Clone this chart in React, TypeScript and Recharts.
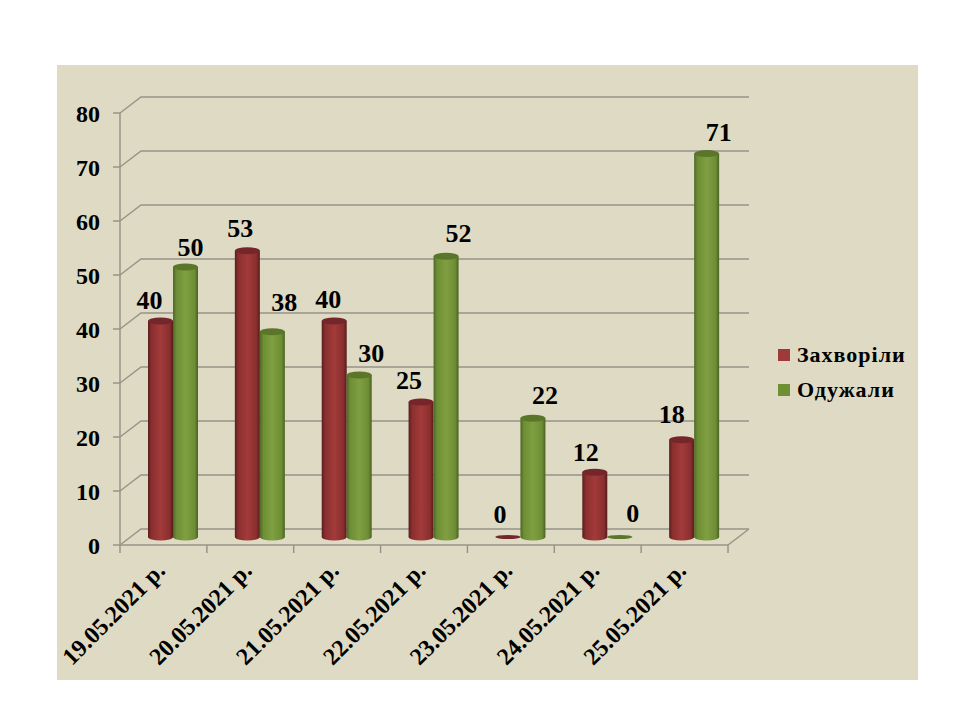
import { BarChart, Bar, XAxis, YAxis, CartesianGrid, Legend, LabelList } from "recharts";

const dates = [
  "19.05.2021 р.",
  "20.05.2021 р.",
  "21.05.2021 р.",
  "22.05.2021 р.",
  "23.05.2021 р.",
  "24.05.2021 р.",
  "25.05.2021 р.",
];
const sick = [40, 53, 40, 25, 0, 12, 18];
const recovered = [50, 38, 30, 52, 22, 0, 71];
const yTicks = [0, 10, 20, 30, 40, 50, 60, 70, 80];

const data = dates.map((date, i) => ({ date, sick: sick[i], recovered: recovered[i] }));

const FONT = '"Liberation Serif", "Times New Roman", serif';
const GRID = "#97948a";
const BAND = 608 / 7;
// fake 3d: how far the back wall and the bars sit from the front axes
const WALL_X = 21;
const WALL_Y = -16;
const BAR_X = 10;
const BAR_Y = -8;

// the labels were dragged by hand in the original
const sickNudge = [[-11, -21], [-7, -22], [-6, -22], [-12, -22], [-8, -23], [-9, -20], [-10, -25]];
const recoveredNudge = [[5, -20], [12, -29], [12, -22], [12.5, -23], [12, -23], [13, -24], [12, -21]];

function GridLine(props: any) {
  const { x1, x2, y1, index } = props;
  const wy = y1 + WALL_Y;
  return (
    <g key={index}>
      <polyline points={`${x1},${y1} ${x1 + WALL_X},${wy} ${x2 + WALL_X},${wy}`} fill="none" stroke={GRID} strokeWidth={1.5} />
      {y1 > 540 && <line x1={x2} y1={y1} x2={x2 + WALL_X} y2={wy} stroke={GRID} strokeWidth={1.5} />}
    </g>
  );
}

function Cylinder(props: any) {
  const { x, y, width, height, grad, top } = props;
  const left = x + BAR_X;
  const ty = y + BAR_Y;
  const rx = width / 2;
  const cx = left + rx;
  if (height < 1) {
    return <ellipse cx={cx} cy={ty} rx={rx} ry={2} fill={top} />;
  }
  const by = ty + height;
  return (
    <g>
      <path
        d={`M${left},${ty} L${left},${by} A${rx},3.5 0 0 0 ${left + width},${by} L${left + width},${ty} Z`}
        fill={`url(#${grad})`}
      />
      <ellipse cx={cx} cy={ty} rx={rx} ry={3.5} fill={top} />
    </g>
  );
}

function XTick(props: any) {
  const { x, y, payload, index } = props;
  const left = x - BAND / 2;
  const top = y - 8;
  return (
    <g>
      <line x1={left} y1={top} x2={left} y2={top + 8} stroke={GRID} strokeWidth={1.5} />
      {index === dates.length - 1 && (
        <line x1={left + BAND} y1={top} x2={left + BAND} y2={top + 8} stroke={GRID} strokeWidth={1.5} />
      )}
      <text
        x={x + 3}
        y={y + 19}
        textAnchor="end"
        transform={`rotate(-45 ${x + 3} ${y + 19})`}
        fontFamily={FONT}
        fontSize={24}
        fontWeight={700}
        fill="#000"
      >
        {payload.value}
      </text>
    </g>
  );
}

function valueLabel(nudge: number[][]) {
  return (props: any) => {
    const { x, y, width, value, index } = props;
    return (
      <text
        x={x + width / 2 + BAR_X + nudge[index][0]}
        y={y + BAR_Y + nudge[index][1]}
        textAnchor="middle"
        dominantBaseline="central"
        fontFamily={FONT}
        fontSize={26}
        fontWeight={700}
        fill="#000"
      >
        {value}
      </text>
    );
  };
}

function LegendBox({ payload }: any) {
  return (
    <div>
      {payload.map((p: any) => (
        <div key={p.value} style={{ display: "flex", alignItems: "center", height: 35 }}>
          <span style={{ width: 12, height: 12, background: p.color, marginRight: 7 }} />
          <span style={{ fontFamily: FONT, fontSize: 22, fontWeight: 700, letterSpacing: 1, color: "#000" }}>{p.value}</span>
        </div>
      ))}
    </div>
  );
}

export default function App() {
  return (
    <div style={{ position: "absolute", left: 0, top: 0, width: 960, height: 720, background: "#fff" }}>
      <div style={{ position: "absolute", left: 57, top: 65, width: 861, height: 615, background: "#dedac3" }} />
      <BarChart
        width={960}
        height={720}
        data={data}
        barSize={25}
        barGap={0}
        margin={{ top: 113, right: 232, bottom: 0, left: 0 }}
        style={{ position: "absolute", left: 0, top: 0 }}
      >
        <defs>
          <linearGradient id="redBar" x1="0" x2="1" y1="0" y2="0">
            <stop offset="0" stopColor="#5a1f1f" />
            <stop offset="0.14" stopColor="#8a2f2f" />
            <stop offset="0.5" stopColor="#a33a3a" />
            <stop offset="0.86" stopColor="#8a2f2f" />
            <stop offset="1" stopColor="#561c1c" />
          </linearGradient>
          <linearGradient id="greenBar" x1="0" x2="1" y1="0" y2="0">
            <stop offset="0" stopColor="#4e6824" />
            <stop offset="0.14" stopColor="#6e8e35" />
            <stop offset="0.5" stopColor="#7f9f41" />
            <stop offset="0.86" stopColor="#6e8e35" />
            <stop offset="1" stopColor="#4a6222" />
          </linearGradient>
        </defs>
        <CartesianGrid vertical={false} horizontal={GridLine} />
        <XAxis
          dataKey="date"
          height={175}
          interval={0}
          axisLine={{ stroke: GRID, strokeWidth: 1.5 }}
          tickLine={false}
          tick={XTick}
        />
        <YAxis
          width={120}
          domain={[0, 80]}
          ticks={yTicks}
          axisLine={{ stroke: GRID, strokeWidth: 1.5 }}
          tickLine={{ stroke: GRID, strokeWidth: 1.5 }}
          tickSize={7}
          tickMargin={13}
          tick={{ fontFamily: FONT, fontSize: 24, fontWeight: 700, fill: "#000" }}
        />
        <Legend
          layout="vertical"
          verticalAlign="middle"
          content={LegendBox}
          wrapperStyle={{ position: "absolute", left: 778, top: 337, width: 170, bottom: "auto", right: "auto" }}
        />
        <Bar
          dataKey="sick"
          name="Захворіли"
          fill="#9e3a3a"
          isAnimationActive={false}
          shape={(p: any) => <Cylinder {...p} grad="redBar" top="#75262a" />}
        >
          <LabelList dataKey="sick" content={valueLabel(sickNudge)} />
        </Bar>
        <Bar
          dataKey="recovered"
          name="Одужали"
          fill="#6f8f35"
          isAnimationActive={false}
          shape={(p: any) => <Cylinder {...p} grad="greenBar" top="#5c7629" />}
        >
          <LabelList dataKey="recovered" content={valueLabel(recoveredNudge)} />
        </Bar>
      </BarChart>
    </div>
  );
}
